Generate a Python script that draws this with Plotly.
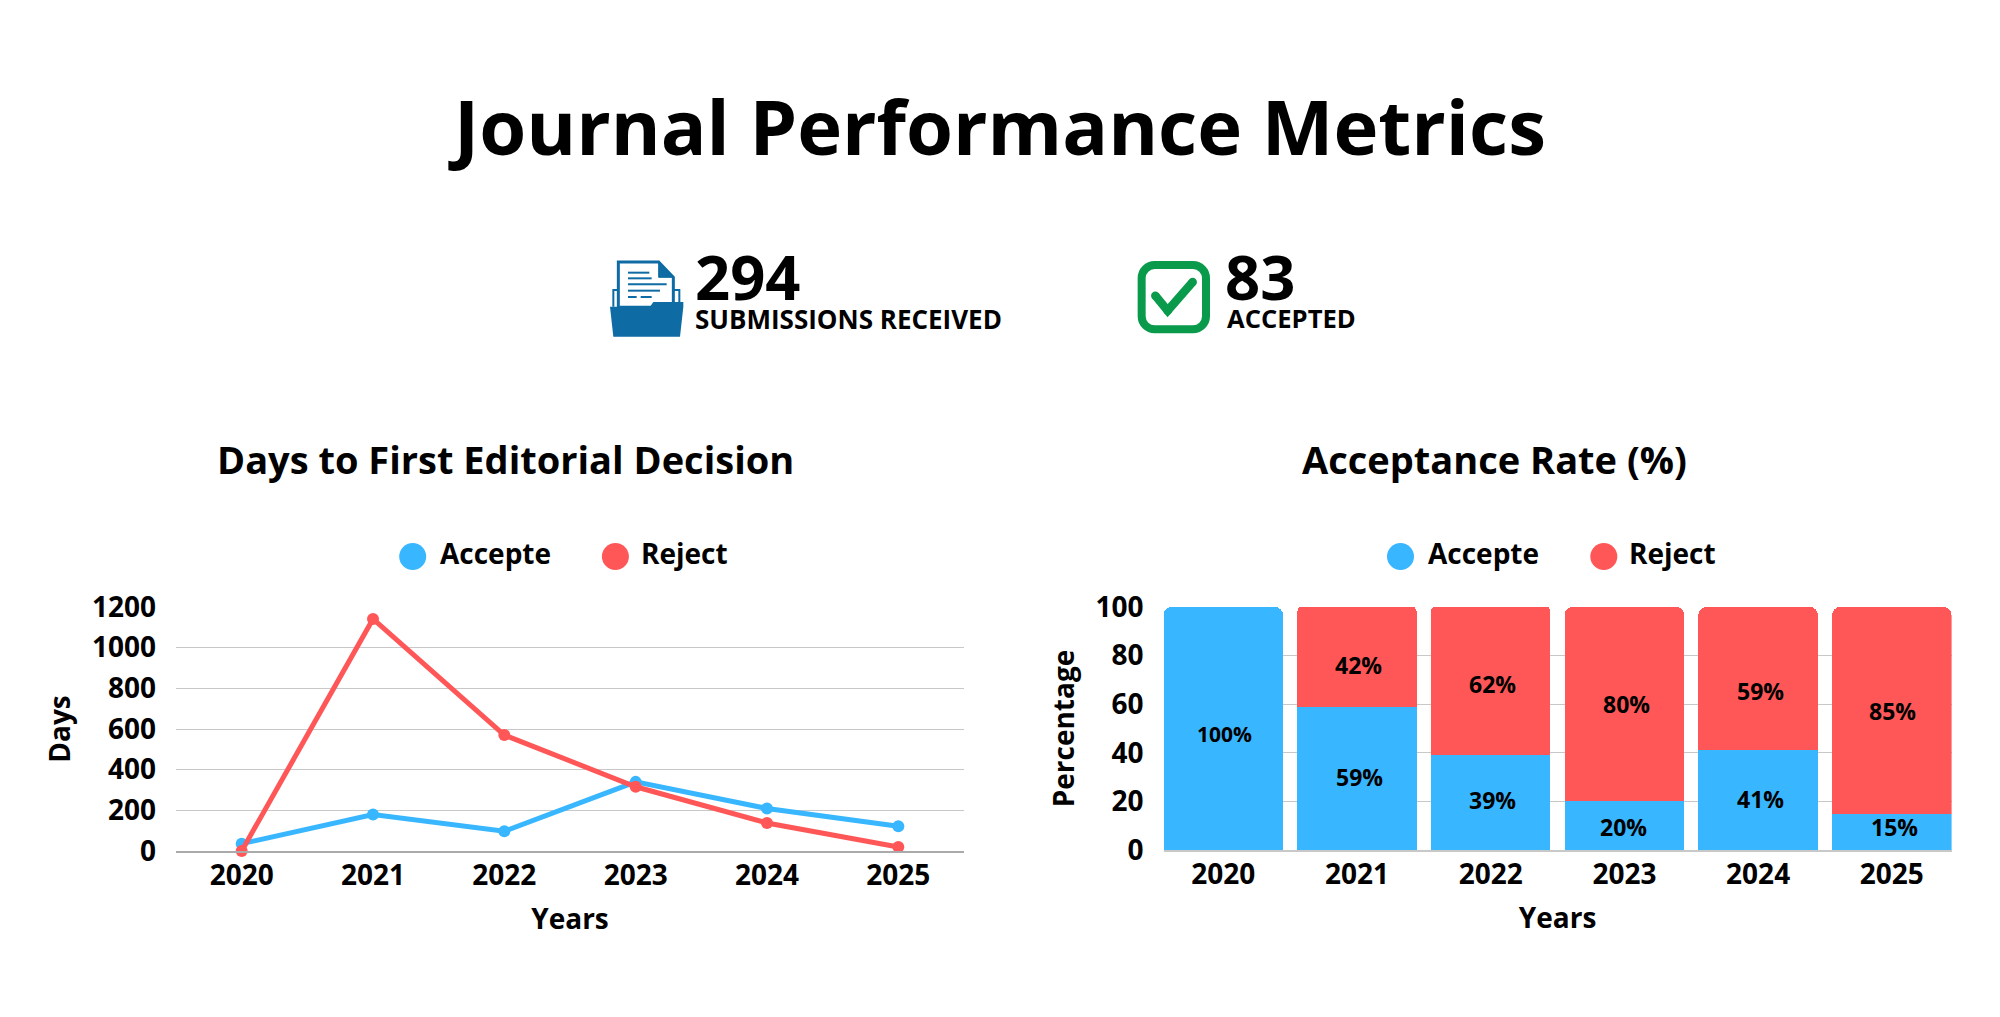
import plotly.graph_objects as go

W, H = 2000, 1017

YEARS = ["2020", "2021", "2022", "2023", "2024", "2025"]
DAYS_ACCEPTED = [36, 179, 97, 340, 209, 122]
DAYS_REJECTED = [0, 1141, 570, 316, 138, 20]
RATE_ACCEPTED = [100, 59, 39, 20, 41, 15]
RATE_REJECTED = [0, 42, 62, 80, 59, 85]

KPI_SUBMISSIONS = "294"
KPI_ACCEPTED = "83"

BLUE = "#38B6FF"
RED = "#FF5757"
FOLDER = "#0E6BA3"
GREEN = "#0A9A4C"
FONT = "Open Sans"


def px(x):
    return x / W


def py(y):
    return 1 - y / H


def path(points, close=True):
    body = " L ".join(f"{px(x):.5f},{py(y):.5f}" for x, y in points)
    return "M " + body + (" Z" if close else "")


def rounded_rect(x0, y0, x1, y1, r):
    k = r * 0.45
    cmds = [
        f"M {px(x0 + r):.5f},{py(y0):.5f}",
        f"L {px(x1 - r):.5f},{py(y0):.5f}",
        f"C {px(x1 - k):.5f},{py(y0):.5f} {px(x1):.5f},{py(y0 + k):.5f} {px(x1):.5f},{py(y0 + r):.5f}",
        f"L {px(x1):.5f},{py(y1 - r):.5f}",
        f"C {px(x1):.5f},{py(y1 - k):.5f} {px(x1 - k):.5f},{py(y1):.5f} {px(x1 - r):.5f},{py(y1):.5f}",
        f"L {px(x0 + r):.5f},{py(y1):.5f}",
        f"C {px(x0 + k):.5f},{py(y1):.5f} {px(x0):.5f},{py(y1 - k):.5f} {px(x0):.5f},{py(y1 - r):.5f}",
        f"L {px(x0):.5f},{py(y0 + r):.5f}",
        f"C {px(x0):.5f},{py(y0 + k):.5f} {px(x0 + k):.5f},{py(y0):.5f} {px(x0 + r):.5f},{py(y0):.5f}",
        "Z",
    ]
    return " ".join(cmds)


def paper_shape(**kw):
    return dict(xref="paper", yref="paper", layer="above", **kw)


def dot(cx, cy, d, color):
    return paper_shape(type="circle", x0=px(cx - d / 2), x1=px(cx + d / 2),
                       y0=py(cy - d / 2), y1=py(cy + d / 2),
                       fillcolor=color, line=dict(width=0))


def text_at(x, y, text, size, xanchor="left", color="#000000", angle=0, weight=700):
    return dict(xref="paper", yref="paper", x=px(x), y=py(y), text=text, showarrow=False,
                xanchor=xanchor, yanchor="middle", textangle=angle,
                font=dict(family=FONT, size=size, color=color, weight=weight))


def folder_icon(ox, oy):
    # Open folder holding a document, drawn back to front.
    def p(zx, zy):
        return (ox + zx / 3, oy + zy / 3)

    def line(a, b, width):
        return paper_shape(type="path", path=path([p(*a), p(*b)], close=False),
                           line=dict(color=FOLDER, width=width))

    shapes = [
        paper_shape(type="path", path=path([p(40, 170), p(40, 120), p(56, 120)], close=False),
                    line=dict(color=FOLDER, width=2)),
        paper_shape(type="path", path=path([p(238, 170), p(238, 120), p(222, 120)], close=False),
                    line=dict(color=FOLDER, width=2)),
        paper_shape(type="path",
                    path=path([p(55, 36), p(176, 36), p(220, 82), p(220, 172), p(55, 172)]),
                    fillcolor="#FFFFFF", line=dict(color=FOLDER, width=3)),
        paper_shape(type="path", path=path([p(176, 36), p(176, 82), p(220, 82)]),
                    fillcolor=FOLDER, line=dict(color=FOLDER, width=1)),
        line((84, 68), (148, 68), 2),
        line((84, 85), (155, 85), 2),
        line((84, 103), (200, 103), 2),
        line((84, 122), (180, 122), 2),
        line((84, 141), (110, 141), 2),
        line((122, 141), (155, 141), 2),
        paper_shape(type="path",
                    path=path([p(30, 170), p(150, 170), p(160, 156), p(250, 156), p(250, 170),
                               p(240, 260), p(40, 260)]),
                    fillcolor=FOLDER, line=dict(width=0)),
    ]
    return shapes


def check_icon(ox, oy):
    # Rounded green box with a tick; dots round off the tick's strokes.
    def p(zx, zy):
        return (ox + zx / 3, oy + zy / 3)

    a, b, c = p(91, 137), p(128, 182), p(203, 96)
    shapes = [
        paper_shape(type="path", path=rounded_rect(*p(50, 45), *p(243, 238), 13),
                    fillcolor="rgba(0,0,0,0)", line=dict(color=GREEN, width=8)),
        paper_shape(type="path", path=path([a, b, c], close=False),
                    line=dict(color=GREEN, width=8.5)),
    ]
    shapes += [dot(x, y, 8.5, GREEN) for x, y in (a, b, c)]
    return shapes


def legend_items(circle_a, text_a, circle_b, text_b, cy=556.5):
    shapes = [dot(circle_a, cy, 27, BLUE), dot(circle_b, cy, 27, RED)]
    notes = [text_at(text_a, cy - 4, "Accepte", 28), text_at(text_b, cy - 4, "Reject", 28)]
    return shapes, notes


fig = go.Figure()

fig.add_trace(go.Scatter(
    x=YEARS, y=DAYS_ACCEPTED, name="Accepte", mode="lines+markers", cliponaxis=False,
    line=dict(color=BLUE, width=5), marker=dict(color=BLUE, size=12),
    showlegend=False, xaxis="x", yaxis="y"))
fig.add_trace(go.Scatter(
    x=YEARS, y=DAYS_REJECTED, name="Reject", mode="lines+markers", cliponaxis=False,
    line=dict(color=RED, width=5), marker=dict(color=RED, size=12),
    showlegend=False, xaxis="x", yaxis="y"))

fig.add_trace(go.Bar(
    x=YEARS, y=RATE_ACCEPTED, name="Accepte", cliponaxis=False,
    marker=dict(color=BLUE, line=dict(width=0)),
    showlegend=False, xaxis="x2", yaxis="y2"))
fig.add_trace(go.Bar(
    x=YEARS, y=RATE_REJECTED, name="Reject", cliponaxis=False,
    marker=dict(color=RED, line=dict(width=0)),
    showlegend=False, xaxis="x2", yaxis="y2"))

# Percentage labels sit in the middle of each segment, nudged slightly by hand.
ACCEPT_NUDGE = [(1, -5), (3, 1), (2, 3), (-1, -1), (2, 1), (3, 5)]
REJECT_NUDGE = [(0, 0), (2, -9), (2, -4), (2, 0), (2, -12), (1, -1)]

annotations = [
    text_at(996.5, 125.5, "Journal Performance Metrics", 76, "center"),
    text_at(505, 459, "Days to First Editorial Decision", 38, "center"),
    text_at(1494, 459, "Acceptance Rate (%)", 38, "center"),
    text_at(693, 276, KPI_SUBMISSIONS, 61.5),
    text_at(693, 319, "SUBMISSIONS RECEIVED", 26),
    text_at(1223, 276, KPI_ACCEPTED, 61.5),
    text_at(1225, 319, "ACCEPTED", 25.6),
]

for i, year in enumerate(YEARS):
    acc, rej = RATE_ACCEPTED[i], RATE_REJECTED[i]
    dx, dy = ACCEPT_NUDGE[i]
    annotations.append(dict(
        xref="x2", yref="y2", x=i, y=acc / 2, text=f"{acc}%", showarrow=False,
        xshift=dx, yshift=dy, xanchor="center", yanchor="middle",
        font=dict(family=FONT, size=21 if acc == 100 else 23, color="#000000", weight=700)))
    if rej:
        dx, dy = REJECT_NUDGE[i]
        annotations.append(dict(
            xref="x2", yref="y2", x=i, y=acc + rej / 2, text=f"{rej}%", showarrow=False,
            xshift=dx, yshift=dy, xanchor="center", yanchor="middle",
            font=dict(family=FONT, size=23, color="#000000", weight=700)))

shapes = folder_icon(600, 250) + check_icon(1125, 250)
for args in ((412.7, 438, 615.4, 639), (1400.5, 1426, 1603.8, 1627)):
    s, n = legend_items(*args)
    shapes += s
    annotations += n

tick_font = dict(family=FONT, size=28, color="#000000", weight=700)
title_font = dict(family=FONT, size=28, color="#000000", weight=700)
GRID = "#C8C8C8"


def y_axis(domain_top, domain_bottom, rng, dtick, title, anchor, standoff):
    return dict(
        domain=[py(domain_bottom), py(domain_top)], range=rng, dtick=dtick, anchor=anchor,
        showgrid=True, gridcolor=GRID, gridwidth=1, zeroline=False, showline=False,
        ticks="", tickfont=tick_font, ticklabelstandoff=19,
        title=dict(text=title, font=title_font, standoff=standoff),
    )


def x_axis(left, right, rng, anchor, line_color):
    return dict(
        domain=[px(left), px(right)], type="category", categoryorder="array",
        categoryarray=YEARS, range=rng, anchor=anchor, showgrid=False, zeroline=False,
        showline=True, linecolor=line_color, linewidth=2, ticks="", tickfont=tick_font,
        ticklabelstandoff=-2,
        title=dict(text="Years", font=title_font, standoff=18),
    )


fig.update_layout(
    width=W, height=H, autosize=False,
    margin=dict(l=0, r=0, t=0, b=0, autoexpand=False),
    paper_bgcolor="#FFFFFF", plot_bgcolor="#FFFFFF",
    font=dict(family=FONT, color="#000000"),
    showlegend=False, barmode="stack", bargap=0.106, barcornerradius=8,
    xaxis=x_axis(176, 964, [-0.5, 5.5], "y", "#AAAAAA"),
    yaxis=y_axis(607, 851, [0, 1200], 200, "Days", "x", 13),
    xaxis2=x_axis(1163.5, 1951.6, [-0.447, 5.447], "y2", GRID),
    yaxis2=y_axis(607, 850, [0, 100], 20, "Percentage", "x2", 12),
    annotations=annotations,
    shapes=shapes,
)

fig.write_html("out.html")
